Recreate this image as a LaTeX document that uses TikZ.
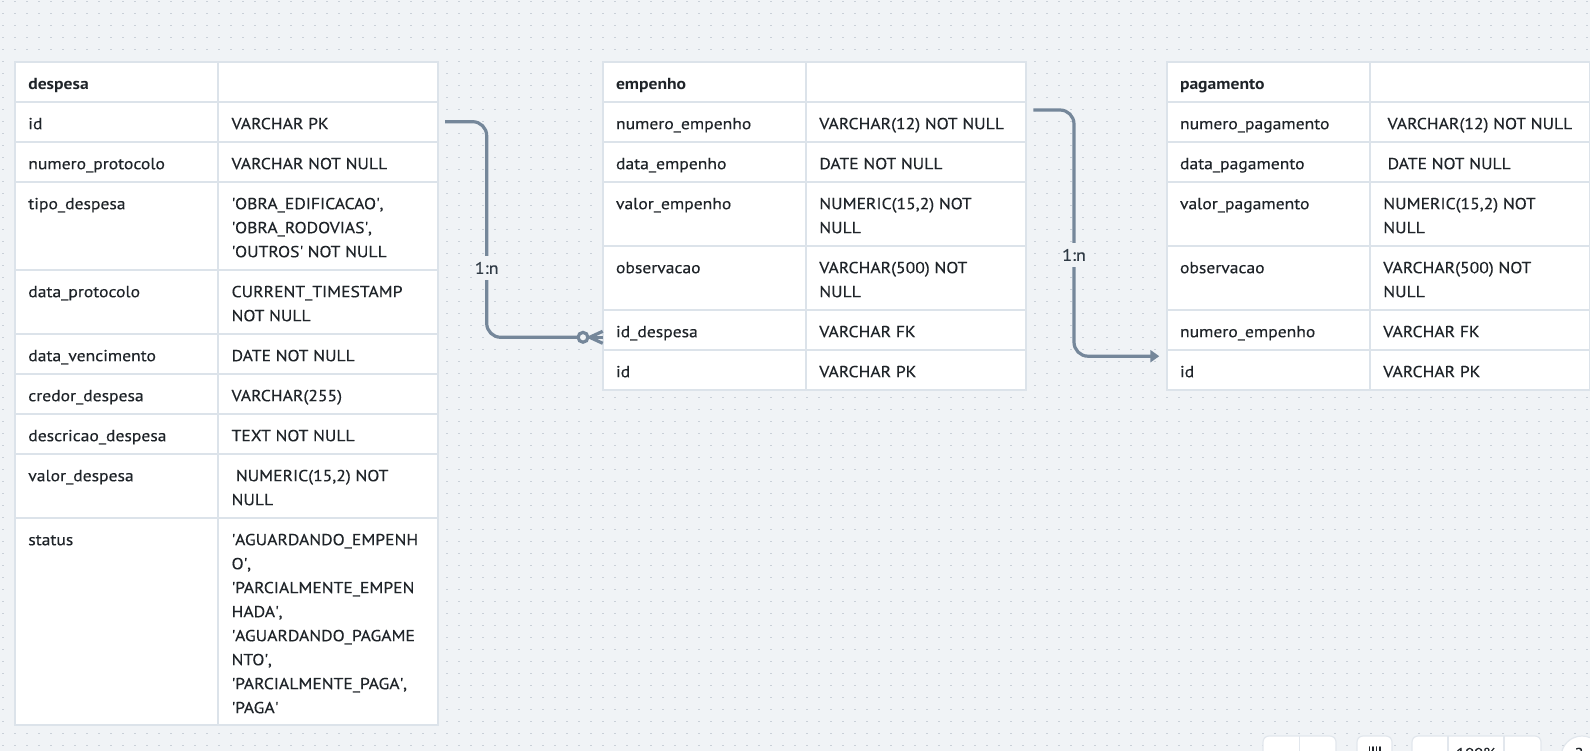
\documentclass[tikz,border=0pt]{standalone}
\usepackage{fontspec}
\setmainfont{PT Sans}[FakeStretch=1.1, UprightFeatures={FakeBold=0.3}]
\usetikzlibrary{arrows.meta,calc}
\definecolor{bgc}{HTML}{F0F3F6}
\definecolor{dotc}{HTML}{C9D0D8}
\definecolor{borderc}{HTML}{DCE3EA}
\definecolor{txtc}{HTML}{1F2429}
\definecolor{connc}{HTML}{75879A}
\definecolor{lblc}{HTML}{2F3A45}
\definecolor{tbc}{HTML}{E2E7ED}
\newcommand\q{\textquotesingle}
% one table row: prefix, row, x, ytop, height, name, type
\newcommand\erow[7]{%
  \node[cellbox, minimum width=203.3pt, minimum height=#5pt] (#1-#2-n) at (#3,#4) {};
  \node[cellbox, minimum width=219.7pt, minimum height=#5pt] (#1-#2-t) at (#1-#2-n.north east) {};
  \node[celltxt] at ([xshift=13.3pt,yshift=-10.5pt]#1-#2-n.north west) {\rule{0pt}{17pt}#6};
  \node[celltxt] at ([xshift=13.3pt,yshift=-10.5pt]#1-#2-t.north west) {\rule{0pt}{17pt}#7};
}
\begin{document}
\begin{tikzpicture}[x=1pt,y=-1pt,
  cellbox/.style={draw=borderc, fill=white, line width=1.8pt, inner sep=0pt, outer sep=0pt, anchor=north west, rectangle},
  celltxt/.style={anchor=north west, inner sep=0pt, outer sep=0pt, align=left, text=txtc, font=\fontsize{16}{24}\selectfont},
  dotline/.style={dotc, line width=1.6pt, dash pattern=on 1.6pt off 10.4pt},
  conn/.style={connc, line width=3.2pt},
  lbl/.style={fill=bgc, text=lblc, inner xsep=2pt, inner ysep=6pt, font=\fontsize{16.5}{19}\selectfont},
  tbbox/.style={draw=tbc, fill=white, line width=1.2pt, rounded corners=6pt},
  tbtxt/.style={anchor=base, text=txtc, inner sep=0pt, font=\fontsize{15}{18}\selectfont}
]
\useasboundingbox (0,0) rectangle (1590,751);
\clip (0,0) rectangle (1590,751);
\fill[bgc] (0,0) rectangle (1590,751);
\foreach \k in {0,...,62} \draw[dotline] (2.2,1.5+12*\k) -- (1592,1.5+12*\k);

% ---- despesa
\erow{d}{h}{15}{61.7}{40}{\textbf{despesa}}{}
\erow{d}{id}{15}{101.7}{40}{id}{VARCHAR PK}
\erow{d}{np}{15}{141.7}{40}{numero\_protocolo}{VARCHAR NOT NULL}
\erow{d}{td}{15}{181.7}{88}{tipo\_despesa}{\q OBRA\_EDIFICACAO\q,\\\q OBRA\_RODOVIAS\q,\\\q OUTROS\q{} NOT NULL}
\erow{d}{dp}{15}{269.7}{64}{data\_protocolo}{CURRENT\_TIMESTAMP\\NOT NULL}
\erow{d}{dv}{15}{333.7}{40}{data\_vencimento}{DATE NOT NULL}
\erow{d}{cd}{15}{373.7}{40}{credor\_despesa}{VARCHAR(255)}
\erow{d}{ds}{15}{413.7}{40}{descricao\_despesa}{TEXT NOT NULL}
\erow{d}{vd}{15}{453.7}{64}{valor\_despesa}{\hspace*{4.3pt}NUMERIC(15,2) NOT\\NULL}
\erow{d}{st}{15}{517.7}{207.3}{status}{\q AGUARDANDO\_EMPENH\\O\q,\\\q PARCIALMENTE\_EMPEN\\HADA\q,\\\q AGUARDANDO\_PAGAME\\NTO\q,\\\q PARCIALMENTE\_PAGA\q,\\\q PAGA\q}

% ---- empenho
\erow{e}{h}{602.7}{61.7}{40}{\textbf{empenho}}{}
\erow{e}{ne}{602.7}{101.7}{40}{numero\_empenho}{VARCHAR(12) NOT NULL}
\erow{e}{de}{602.7}{141.7}{40}{data\_empenho}{DATE NOT NULL}
\erow{e}{ve}{602.7}{181.7}{64}{valor\_empenho}{NUMERIC(15,2) NOT\\NULL}
\erow{e}{ob}{602.7}{245.7}{64}{observacao}{VARCHAR(500) NOT\\NULL}
\erow{e}{idd}{602.7}{309.7}{40}{id\_despesa}{VARCHAR FK}
\erow{e}{id}{602.7}{349.7}{40}{id}{VARCHAR PK}

% ---- pagamento
\erow{p}{h}{1166.7}{61.7}{40}{\textbf{pagamento}}{}
\erow{p}{np}{1166.7}{101.7}{40}{numero\_pagamento}{\hspace*{4.3pt}VARCHAR(12) NOT NULL}
\erow{p}{dp}{1166.7}{141.7}{40}{data\_pagamento}{\hspace*{4.3pt}DATE NOT NULL}
\erow{p}{vp}{1166.7}{181.7}{64}{valor\_pagamento}{NUMERIC(15,2) NOT\\NULL}
\erow{p}{ob}{1166.7}{245.7}{64}{observacao}{VARCHAR(500) NOT\\NULL}
\erow{p}{ne}{1166.7}{309.7}{40}{numero\_empenho}{VARCHAR FK}
\erow{p}{id}{1166.7}{349.7}{40}{id}{VARCHAR PK}

% ---- connector 1: despesa.id -> empenho.id_despesa (zero or many)
\coordinate (c1s) at ([xshift=7pt]d-id-t.east);
\coordinate (c1t) at ([yshift=-7.6pt]e-idd-n.west);
\coordinate (c1e) at ([xshift=-24.7pt]c1t);
\coordinate (c1x) at (486.7,0);
\draw[conn, rounded corners=14pt] (c1s) -- (c1s -| c1x) -- (c1x |- c1e) -- (c1e);
\draw[conn] ([xshift=-14pt]c1t) -- (c1t);
\draw[conn] ([xshift=-13pt]c1t) -- ([yshift=6pt]c1t);
\draw[conn] ([xshift=-13pt]c1t) -- ([yshift=-6pt]c1t);
\draw[conn, fill=bgc] ([xshift=-19.7pt]c1t) circle[radius=4.9pt];
\node[lbl] (l1) at (486.7,268) {1:n};

% ---- connector 2: empenho.numero_empenho -> pagamento
\coordinate (c2s) at ([xshift=7.6pt,yshift=11.7pt]e-ne-t.east);
\coordinate (c2e) at ([xshift=-7.4pt,yshift=13.5pt]p-id-n.west);
\coordinate (c2x) at (1074,0);
\draw[conn, rounded corners=14pt, -{Triangle[length=9pt,width=12pt]}] (c2s) -- (c2s -| c2x) -- (c2x |- c2e) -- (c2e);
\node[lbl] (l2) at (1074,255) {1:n};

% ---- toolbar (cut off at bottom)
\draw[tbbox] (1263,736) rectangle (1336,790);
\draw[tbc, line width=1.2pt] (1299.5,736) -- (1299.5,790);
\draw[tbbox] (1357,736) rectangle (1392,790);
\draw[tbbox] (1412,736) rectangle (1541,790);
\draw[tbc, line width=1.2pt] (1448,736) -- (1448,790);
\draw[tbc, line width=1.2pt] (1504,736) -- (1504,790);
\draw[tbc, fill=white, line width=1.2pt] (1582,757) circle[radius=21pt];
\node[tbtxt] (tb1) at (1276,759) {‹};
\node[tbtxt] (tb2) at (1323,759) {›};
\foreach \hx in {1369.5,1373,1376.5,1380} \draw[txtc, line width=1.6pt, line cap=round] (\hx,747) -- (\hx,754);
\node[tbtxt] (tb3) at (1476,758.5) {100\%};
\node[tbtxt] (tb4) at (1523,760) {+};
\node[tbtxt] (tb5) at (1579,758.5) {?};
\end{tikzpicture}
\end{document}
